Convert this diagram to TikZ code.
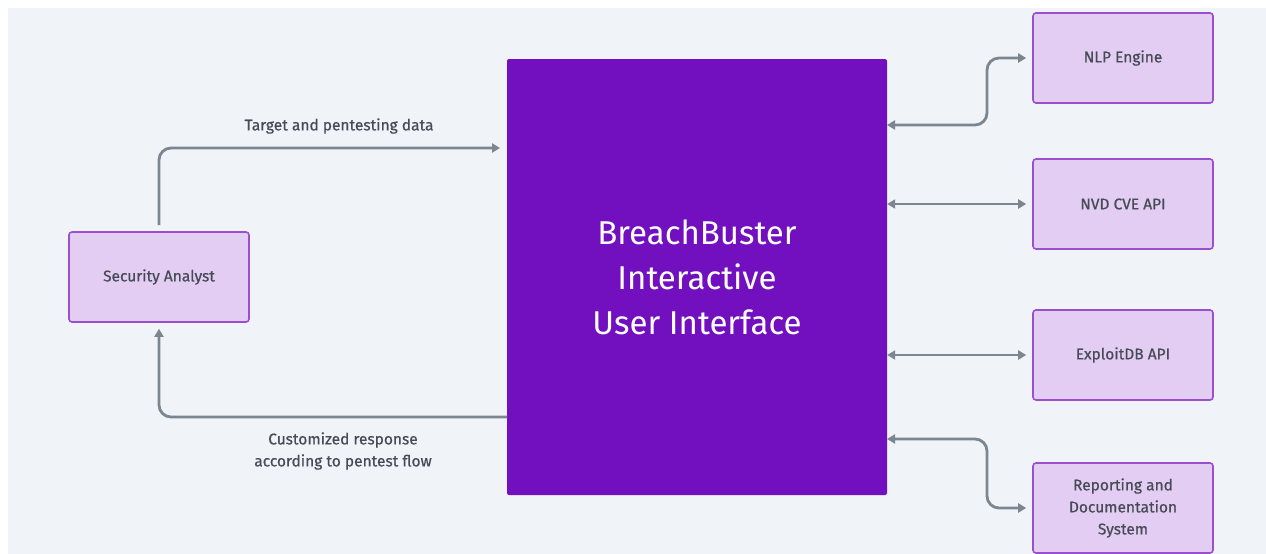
\documentclass[tikz,border=0pt]{standalone}
\usepackage{fontspec}
\setmainfont{Fira Sans}
\newfontfamily\medfont{Fira Sans}[FakeBold=0.6]
\usepackage{tikz}
\usetikzlibrary{arrows.meta}

\definecolor{bgcol}{HTML}{F0F3F7}
\definecolor{uicol}{HTML}{7210C0}
\definecolor{boxcol}{HTML}{E3CDF3}
\definecolor{edgecol}{HTML}{9B4FD0}
\definecolor{txtcol}{HTML}{474B57}
\definecolor{flowcol}{HTML}{7B8690}

\begin{document}
\begin{tikzpicture}[x=1pt,y=-1pt,
    part/.style={draw=edgecol,line width=1.6pt,fill=boxcol,rounded corners=3pt,
      minimum width=180pt,minimum height=90pt,align=center,text=txtcol,
      font=\medfont\fontsize{15.5}{22}\selectfont},
    flow/.style={draw=flowcol,line width=2.8pt,rounded corners=12pt,
      -{Triangle[length=8pt,width=9pt]}},
    both/.style={flow,{Triangle[length=8pt,width=9pt]}-{Triangle[length=8pt,width=9pt]}},
    lbl/.style={text=txtcol,align=center,font=\medfont\fontsize{15.5}{22}\selectfont}]
          \fill[white] (0,0) rectangle (1266,554);
          \fill[bgcol] (8,8) rectangle (1266,554);
          \node[fill=uicol,rounded corners=2pt,minimum width=380pt,minimum height=436pt,
            text=white,align=center,font=\fontsize{33}{45}\selectfont] (bbui) at (697,277)
            {BreachBuster\\Interactive\\User Interface};
          \node[part] (analyst) at (159,277) {Security Analyst};
          \node[part] (nlp) at (1123,58) {NLP Engine};
          \node[part] (nvd) at (1123,204) {NVD CVE API};
          \node[part] (exploitdb) at (1123,355) {ExploitDB API};
          \node[part] (report) at (1123,508) {Reporting and\\Documentation\\System};
          \coordinate (datain) at (507,148);
          \coordinate (respout) at (507,417);
          \coordinate (nlpport) at (887,125);
          \coordinate (reportport) at (887,439);
          \draw[flow,shorten <=6pt,shorten >=7pt] (analyst.north) |- (datain);
          \draw[flow,shorten >=6pt] (respout) -| (analyst.south);
          \node[lbl] (datalbl) at (339,126) {Target and pentesting data};
          \node[lbl] (resplbl) at (343,451) {Customized response\\according to pentest flow};
          \draw[both,shorten >=6pt] (nlpport) -- ++(100,0) |- (nlp.west);
          \draw[both,shorten >=6pt] (nvd.west -| bbui.east) -- (nvd.west);
          \draw[both,shorten >=6pt] (exploitdb.west -| bbui.east) -- (exploitdb.west);
          \draw[both,shorten >=6pt] (reportport) -- ++(100,0) |- (report.west);
        \end{tikzpicture}
\end{document}
